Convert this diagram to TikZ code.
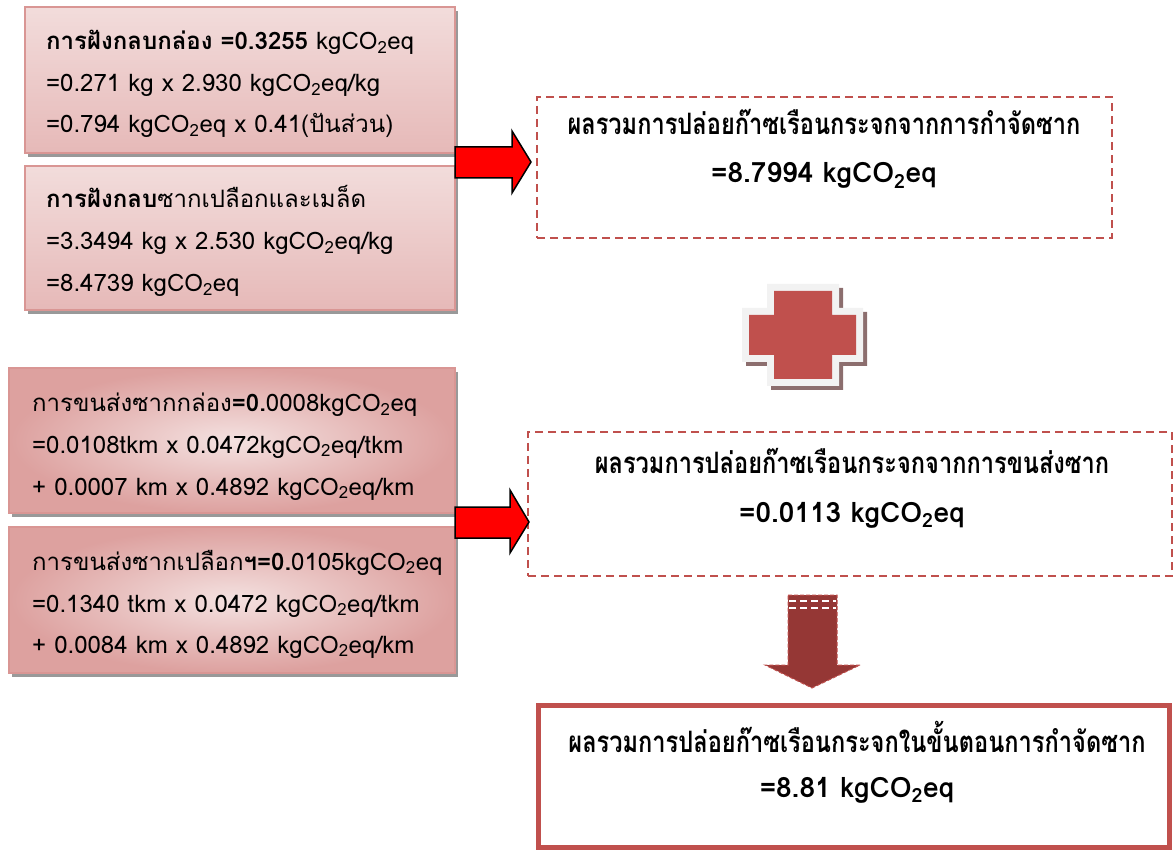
\documentclass[tikz,border=0pt]{standalone}
\usepackage{fontspec}
\setmainfont[Script=Thai]{Loma}
\newfontfamily\condfont[Script=Thai,FakeStretch=0.8]{Loma}
\usetikzlibrary{shadows}
\definecolor{pinkA}{HTML}{F2DCDB}
\definecolor{pinkB}{HTML}{E6B9B8}
\definecolor{pinkC}{HTML}{D99694}
\definecolor{boxline}{HTML}{D99694}
\definecolor{redline}{HTML}{C0504D}
\definecolor{darkred}{HTML}{953735}
\definecolor{crossedge}{HTML}{F2F2F2}
\definecolor{crossshadow}{HTML}{8C6E6E}
\newcommand{\cotwo}{CO\textsubscript{2}}
\begin{document}
\begin{tikzpicture}[x=1pt,y=-1pt,
  lbox/.style={draw=boxline, line width=1.5pt, inner sep=0pt,
    drop shadow={shadow xshift=3pt, shadow yshift=-4pt, fill=black, opacity=0.4}},
  lboxtop/.style={lbox, top color=pinkA, bottom color=pinkB},
  lboxrad/.style={lbox, inner color=pinkA!85!white, outer color=pinkC!85!pinkA},
  ltext/.style={anchor=base west, inner sep=0pt, font=\fontsize{24}{28}\selectfont},
  dbox/.style={draw=redline, line width=2.5pt, dash pattern=on 8pt off 5pt, inner sep=0pt},
  rtext/.style={anchor=base, inner sep=0pt, font=\condfont\bfseries\fontsize{29.5}{34}\selectfont},
  rnum/.style={anchor=base, inner sep=0pt, font=\bfseries\fontsize{28}{32}\selectfont},
  blockarrow/.style={draw=black, line width=1.5pt, fill=red, line join=miter},
]
\useasboundingbox (0,0) rectangle (1176,850);

% left boxes
\node[lboxtop, minimum width=430pt, minimum height=146pt] (b1) at (240,80) {};
\node[lboxtop, minimum width=430pt, minimum height=144pt] (b2) at (240,238) {};
\node[lboxrad, minimum width=446pt, minimum height=145pt] (b3) at (232,440.5) {};
\node[lboxrad, minimum width=446pt, minimum height=146pt] (b4) at (232,600) {};

\node[ltext] (t11) at (46,50) {\textbf{การฝังกลบกล่อง =0.3255} kg\cotwo eq};
\node[ltext] (t12) at (46,92) {=0.271 kg x 2.930 kg\cotwo eq/kg};
\node[ltext] (t13) at (46,133) {=0.794 kg\cotwo eq x 0.41(ปันส่วน)};

\node[ltext] (t21) at (46,208) {\textbf{การฝังกลบ}ซากเปลือกและเมล็ด};
\node[ltext] (t22) at (46,250) {=3.3494 kg x 2.530 kg\cotwo eq/kg};
\node[ltext] (t23) at (46,292) {=8.4739 kg\cotwo eq};

\node[ltext] (t31) at (32,412) {การขนส่งซากกล่อง\textbf{=0.}0008kg\cotwo eq};
\node[ltext] (t32) at (32,453) {=0.0108tkm x 0.0472kg\cotwo eq/tkm};
\node[ltext] (t33) at (32,495) {+ 0.0007 km x 0.4892 kg\cotwo eq/km};

\node[ltext] (t41) at (32,570) {การขนส่งซากเปลือก\textbf{ฯ=0.}0105kg\cotwo eq};
\node[ltext] (t42) at (32,612) {=0.1340 tkm x 0.0472 kg\cotwo eq/tkm};
\node[ltext] (t43) at (32,653) {+ 0.0084 km x 0.4892 kg\cotwo eq/km};

% right boxes
\node[dbox, minimum width=575pt, minimum height=141pt] (r1) at (824.5,167.5) {};
\node[rtext] (r1a) at (824,135) {ผลรวมการปล่อยก๊าซเรือนกระจกจากการกำจัดซาก};
\node[rnum] (r1b) at (824,183) {=8.7994 kg\cotwo eq};

\node[dbox, minimum width=644pt, minimum height=144pt] (r2) at (850,504) {};
\node[rtext] (r2a) at (852,473) {ผลรวมการปล่อยก๊าซเรือนกระจกจากการขนส่งซาก};
\node[rnum] (r2b) at (852,522) {=0.0113 kg\cotwo eq};

\node[draw=redline, line width=5pt, inner sep=0pt, minimum width=631pt, minimum height=142pt] (r3) at (854,776.5) {};
\node[rtext] (r3a) at (857,752) {ผลรวมการปล่อยก๊าซเรือนกระจกในขั้นตอนการกำจัดซาก};
\node[rnum] (r3b) at (857,797) {=8.81 kg\cotwo eq};

% red block arrows
\draw[blockarrow] (455,147) -- (512,147) -- (512,131) -- (531,162) -- (512,193) -- (512,178) -- (455,178) -- cycle;
\draw[blockarrow] (455,507) -- (510,507) -- (510,490) -- (529,522) -- (510,553) -- (510,538) -- (455,538) -- cycle;

% plus sign
\fill[crossshadow] (771,288) -- (843,288) -- (843,312) -- (867,312) -- (867,366) -- (843,366) -- (843,390) -- (771,390) -- (771,366) -- (746,366) -- (746,312) -- (771,312) -- cycle;
\fill[crossedge] (767,284) -- (839,284) -- (839,308) -- (863,308) -- (863,362) -- (839,362) -- (839,386) -- (767,386) -- (767,362) -- (742,362) -- (742,308) -- (767,308) -- cycle;
\fill[redline] (774,291) -- (832,291) -- (832,315) -- (856,315) -- (856,355) -- (832,355) -- (832,379) -- (774,379) -- (774,355) -- (749,355) -- (749,315) -- (774,315) -- cycle;

% down arrow
\draw[fill=darkred, draw=redline, line width=1pt, dash pattern=on 4pt off 2pt]
  (788,595) -- (837,595) -- (837,665) -- (860,665) -- (812,688) -- (765,665) -- (788,665) -- cycle;
\draw[white, line width=1.2pt, dash pattern=on 7pt off 4pt] (789,601) -- (836,601);
\draw[white, line width=1.2pt, dash pattern=on 7pt off 4pt] (789,608) -- (836,608);
\end{tikzpicture}
\end{document}
